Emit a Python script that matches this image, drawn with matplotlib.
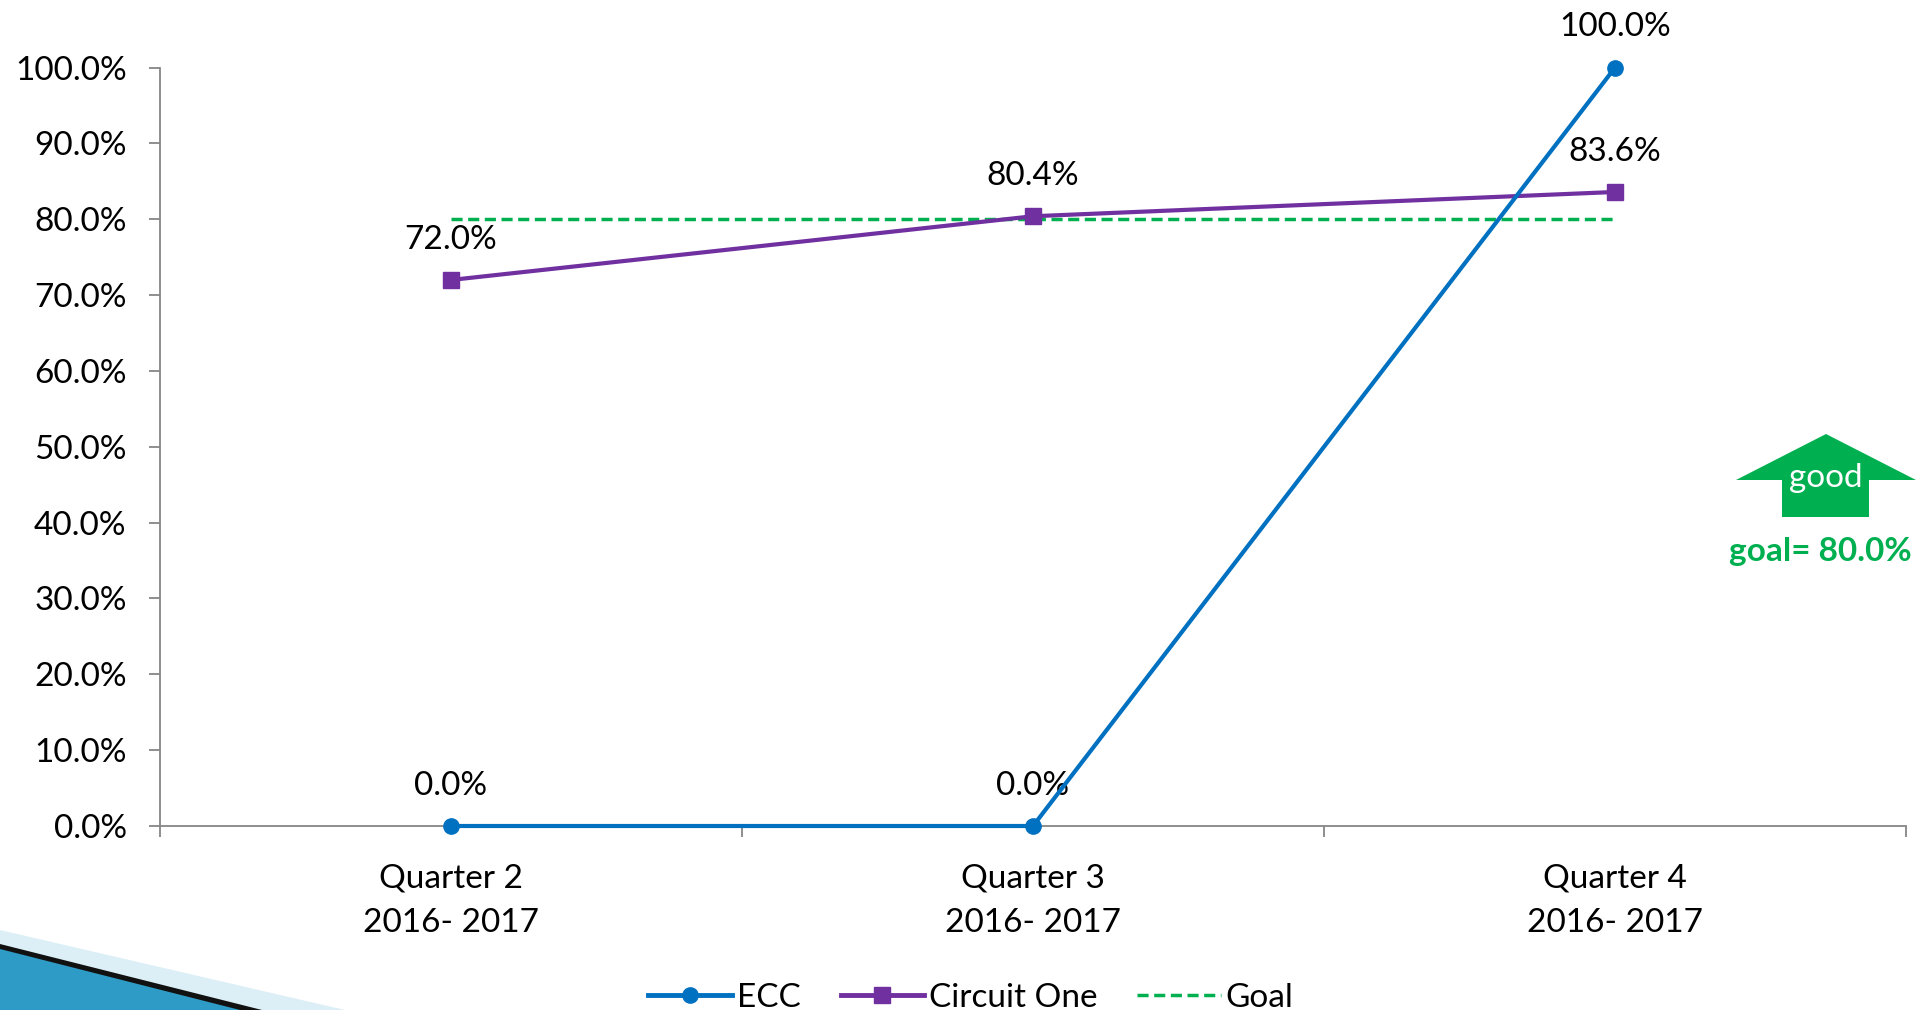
import matplotlib
matplotlib.use("Agg")
import matplotlib.pyplot as plt
from matplotlib.patches import Polygon
from matplotlib.lines import Line2D
import numpy as np

plt.rcParams['font.family'] = ['Lato', 'DejaVu Sans']

categories = ["Quarter 2\n2016- 2017", "Quarter 3\n2016- 2017", "Quarter 4\n2016- 2017"]
ecc = [0.0, 0.0, 100.0]
circuit_one = [72.0, 80.4, 83.6]
goal = [80.0, 80.0, 80.0]
yticks = [0, 10, 20, 30, 40, 50, 60, 70, 80, 90, 100]

BLUE = "#0070C0"
PURPLE = "#7030A0"
GREEN = "#00B050"
FS = 24
GOAL_LS = (0, (3.2, 1.6))

fig = plt.figure(figsize=(19.28, 10.10), dpi=100)
ax = fig.add_axes([160/1928, 1 - 826/1010, (1906-160)/1928, (826-67.6)/1010])

x = np.arange(len(categories))
ax.plot(x, goal, color=GREEN, lw=2.5, ls=GOAL_LS, zorder=2)
ax.plot(x, circuit_one, color=PURPLE, lw=3.0, marker='s', ms=11, zorder=3, clip_on=False)
ax.plot(x, ecc, color=BLUE, lw=3.0, marker='o', ms=11, zorder=4, clip_on=False)

for xi, v in zip(x, ecc):
    ax.annotate(f"{v:.1f}%", (xi, v), xytext=(0, 29), textcoords='offset points',
                ha='center', va='center', fontsize=FS, color='black')
for xi, v in zip(x, circuit_one):
    ax.annotate(f"{v:.1f}%", (xi, v), xytext=(0, 29), textcoords='offset points',
                ha='center', va='center', fontsize=FS, color='black')

ax.set_xlim(-0.5, len(categories) - 0.5)
ax.set_ylim(0, 100)
ax.set_yticks(yticks)
ax.set_yticklabels([f"{t:.1f}%" for t in yticks], fontsize=FS)
ax.set_xticks(np.arange(-0.5, len(categories), 1.0))
ax.set_xticklabels([])
ax.set_xticks(x, minor=True)
ax.set_xticklabels(categories, minor=True, fontsize=FS, linespacing=1.62)
ax.tick_params(axis='x', which='minor', length=0, pad=27)
ax.tick_params(axis='x', which='major', length=8, width=1.3, color='#868686', direction='out')
ax.tick_params(axis='y', length=8, width=1.3, color='#868686', direction='out', pad=16)

for s in ['top', 'right']:
    ax.spines[s].set_visible(False)
for s in ['left', 'bottom']:
    ax.spines[s].set_color('#868686')
    ax.spines[s].set_linewidth(1.3)

handles = [
    Line2D([], [], color=BLUE, lw=3.5, marker='o', ms=11),
    Line2D([], [], color=PURPLE, lw=3.5, marker='s', ms=11),
    Line2D([], [], color=GREEN, lw=2.5, ls=GOAL_LS),
]
fig.legend(handles, ["ECC", "Circuit One", "Goal"], loc='center', bbox_to_anchor=(971/1928, 1 - 998/1010),
           ncol=3, frameon=False, fontsize=FS, handlelength=2.5, handletextpad=0.15, columnspacing=1.2)

# green "good" arrow
def fx(px):
    return px / 1928
def fy(py):
    return 1 - py / 1010
arrow = [(1826, 434), (1916, 480), (1869, 480), (1869, 517), (1782, 517), (1782, 480), (1736, 480)]
fig.patches.append(Polygon([(fx(a), fy(b)) for a, b in arrow], closed=True, transform=fig.transFigure,
                           facecolor=GREEN, edgecolor='none'))
fig.text(fx(1826), fy(478), "good", color='white', fontsize=FS, ha='center', va='center')
fig.text(fx(1820), fy(551), "goal= 80.0%", color=GREEN, fontsize=FS, fontweight='bold', ha='center', va='center')

# decorative corner shape
light = [(0, 930), (345, 1010), (0, 1010)]
fig.patches.append(Polygon([(fx(a), fy(b)) for a, b in light], closed=True, transform=fig.transFigure,
                           facecolor='#DCEFF6', edgecolor='none'))
dark = [(0, 944), (262, 1010), (0, 1010)]
fig.patches.append(Polygon([(fx(a), fy(b)) for a, b in dark], closed=True, transform=fig.transFigure,
                           facecolor='#111111', edgecolor='none'))
blue = [(0, 949), (240, 1010), (0, 1010)]
fig.patches.append(Polygon([(fx(a), fy(b)) for a, b in blue], closed=True, transform=fig.transFigure,
                           facecolor='#2E9BC6', edgecolor='none'))

fig.savefig("out.png", dpi=100)
